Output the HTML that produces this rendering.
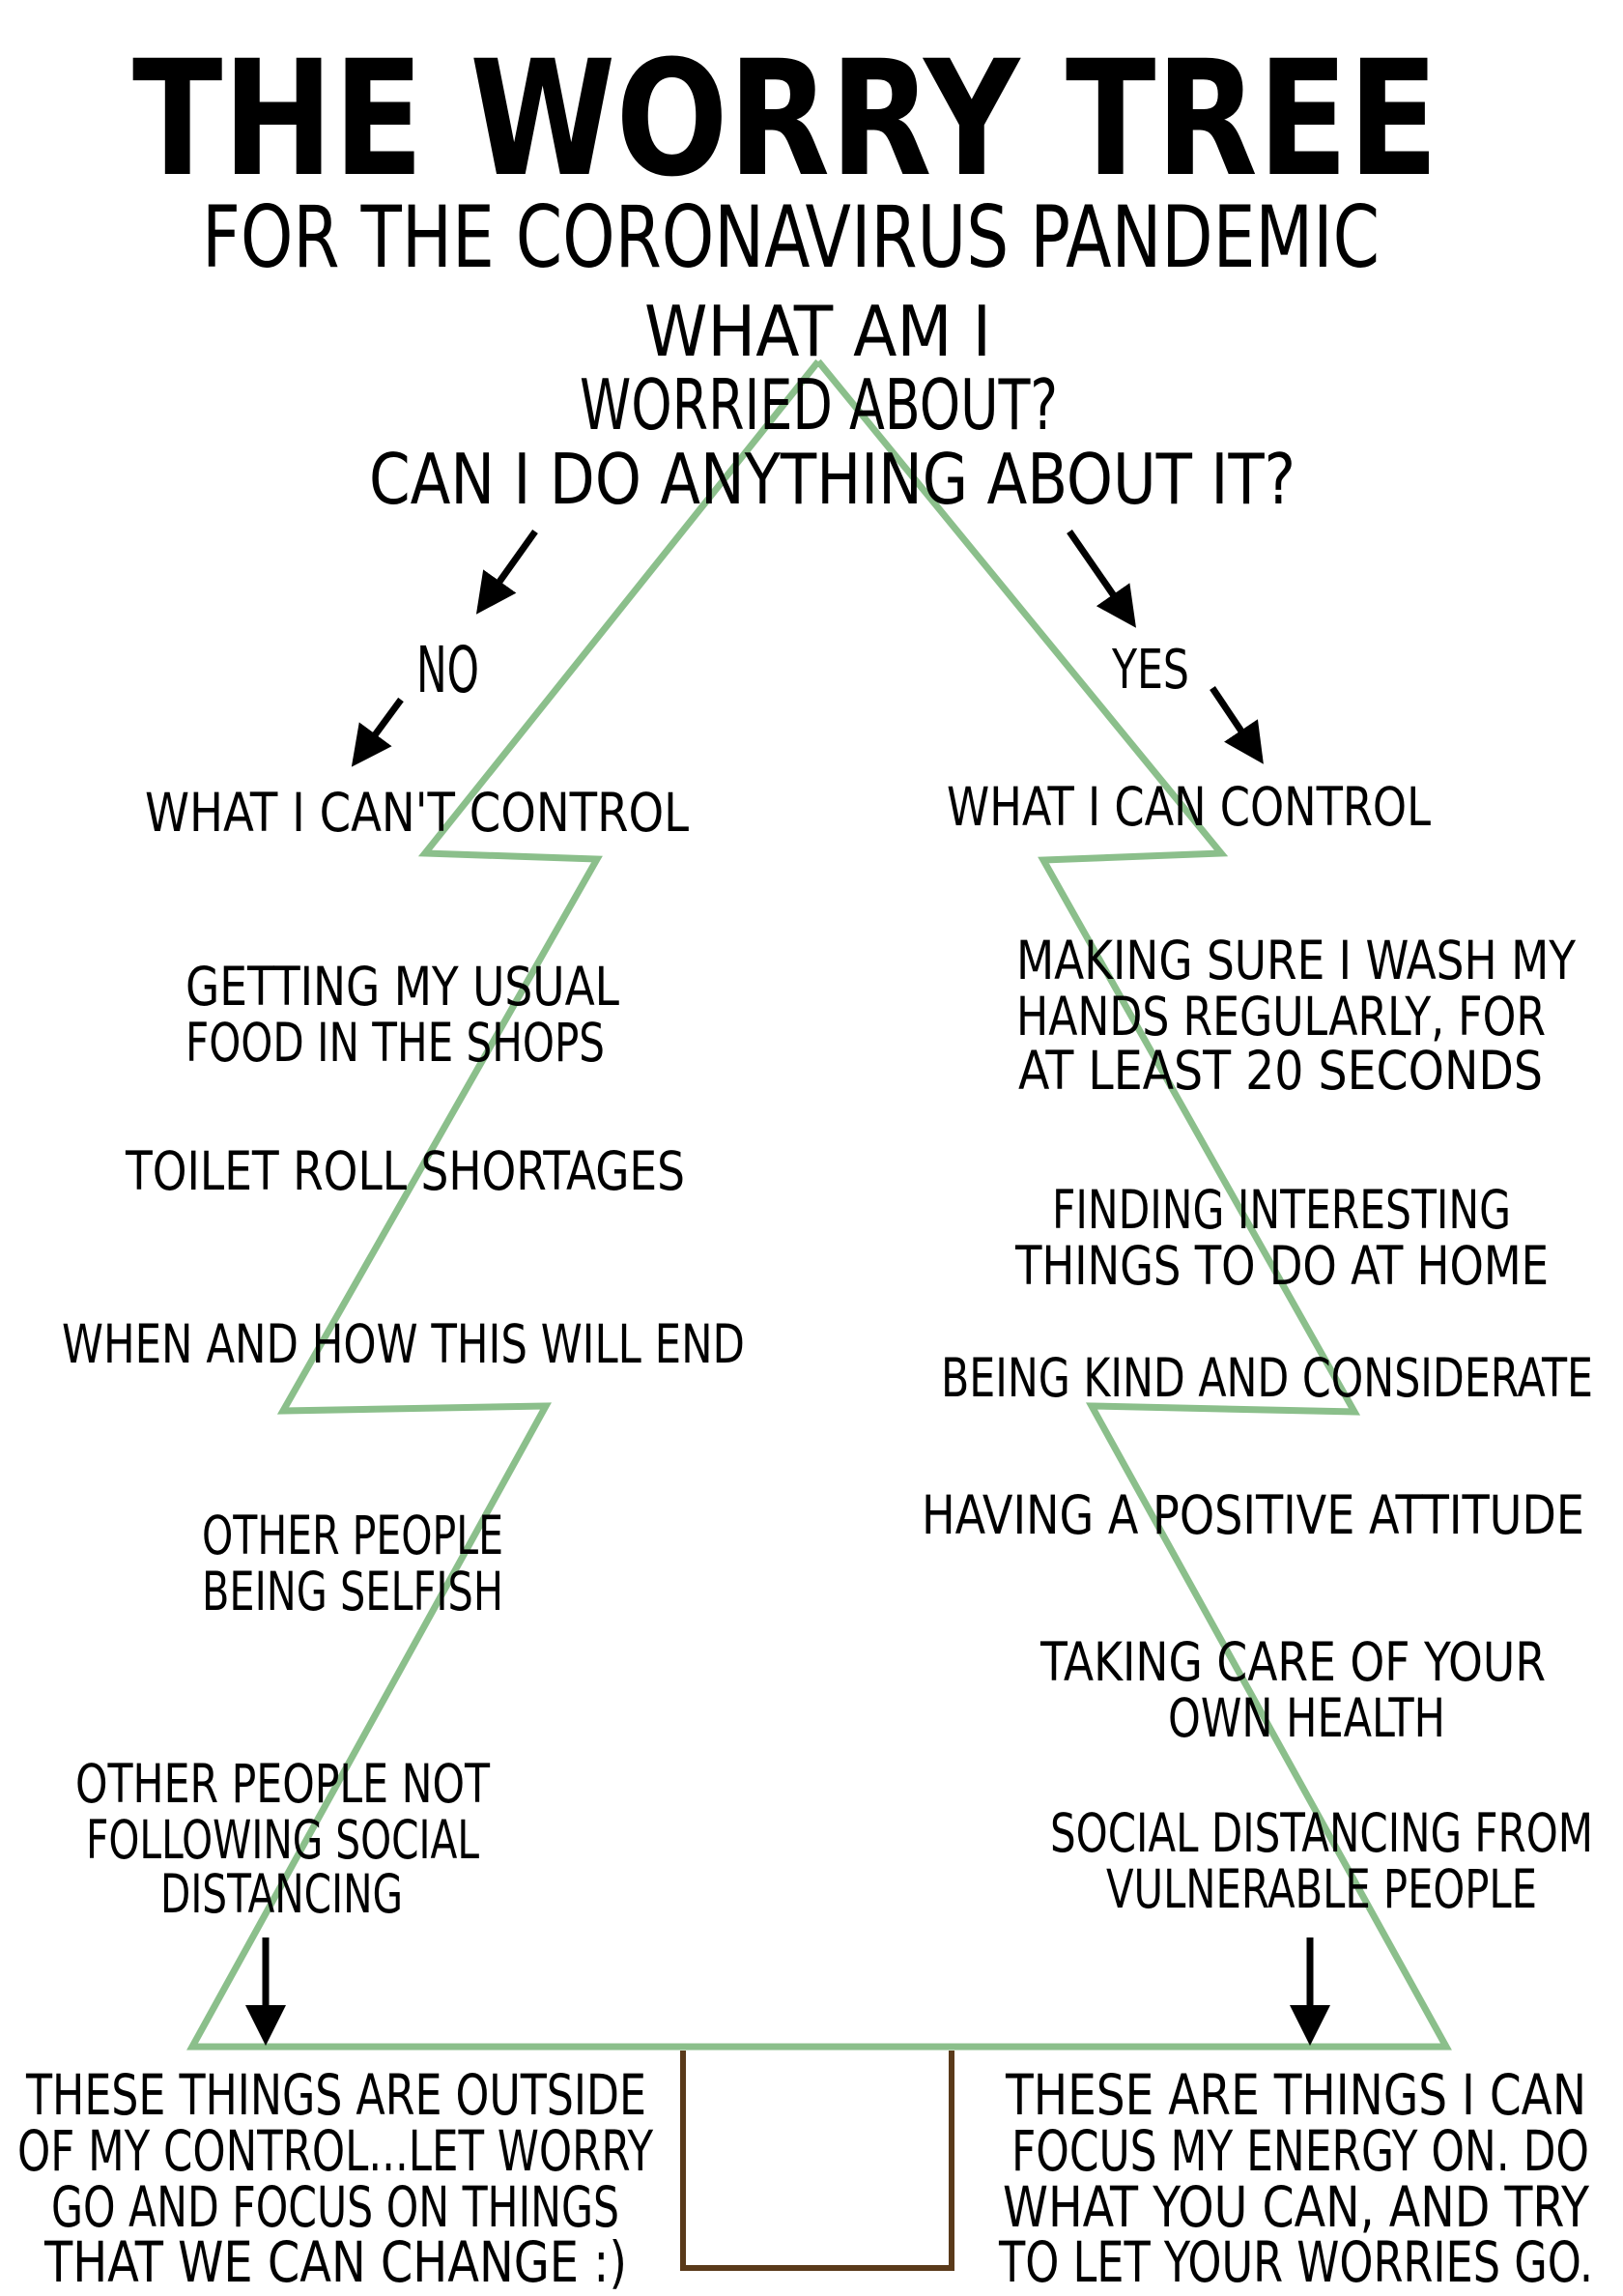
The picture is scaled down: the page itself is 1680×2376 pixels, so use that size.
<!DOCTYPE html>
<html><head><meta charset="utf-8"><style>
html,body{margin:0;padding:0;background:#fff}
svg{display:block}
text{font-family:"Liberation Sans Narrow","DejaVu Sans Condensed","Liberation Sans",sans-serif;fill:#000}
.t{font-size:55px}
.b{font-size:58px}
</style></head><body>
<svg width="1680" height="2376" viewBox="0 0 1680 2376" xmlns="http://www.w3.org/2000/svg">
<defs><marker id="ah" markerWidth="6" markerHeight="6" refX="5" refY="3" orient="auto" markerUnits="strokeWidth"><path d="M0,0 L6,3 L0,6 Z" fill="#000"/></marker></defs>
<polyline points="847,374 440,883 618,889 293,1460 565,1455 199,2118 1497,2118 1130,1455 1402,1461 1080,890 1264,883 847,374" fill="none" stroke="#8bbf8b" stroke-width="7" stroke-linejoin="miter"/>
<polyline points="707,2122 707,2347 985,2347 985,2122" fill="none" stroke="#5a3a1a" stroke-width="6"/>
<g stroke="#000" stroke-width="7" marker-end="url(#ah)">
<line x1="554" y1="550" x2="497" y2="630"/>
<line x1="415" y1="724" x2="368" y2="788"/>
<line x1="1107" y1="550" x2="1172" y2="644"/>
<line x1="1255" y1="712" x2="1304" y2="785"/>
<line x1="275" y1="2005" x2="275" y2="2110"/>
<line x1="1356" y1="2005" x2="1356" y2="2110"/>
</g>
<g transform="translate(0,-6)">
<text x="137" y="186" font-size="165" font-weight="bold" textLength="1352" lengthAdjust="spacingAndGlyphs">THE WORRY TREE</text>
<text x="209" y="282" font-size="88" textLength="1219" lengthAdjust="spacingAndGlyphs">FOR THE CORONAVIRUS PANDEMIC</text>
<g font-size="72">
<text x="667" y="374" textLength="359" lengthAdjust="spacingAndGlyphs">WHAT AM I</text>
<text x="600" y="450" textLength="495" lengthAdjust="spacingAndGlyphs">WORRIED ABOUT?</text>
<text x="382" y="527" textLength="959" lengthAdjust="spacingAndGlyphs">CAN I DO ANYTHING ABOUT IT?</text>
<text x="431" y="722" font-size="66" textLength="65" lengthAdjust="spacingAndGlyphs">NO</text>
<text x="1151" y="718" font-size="56" textLength="80" lengthAdjust="spacingAndGlyphs">YES</text>
</g>
<g class="t">
<text x="150" y="866" textLength="563" lengthAdjust="spacingAndGlyphs">WHAT I CAN'T CONTROL</text>
<text x="980" y="860" textLength="501" lengthAdjust="spacingAndGlyphs">WHAT I CAN CONTROL</text>
<text x="192" y="1046" textLength="449" lengthAdjust="spacingAndGlyphs">GETTING MY USUAL</text>
<text x="192" y="1104" textLength="434" lengthAdjust="spacingAndGlyphs">FOOD IN THE SHOPS</text>
<text x="130" y="1237" textLength="579" lengthAdjust="spacingAndGlyphs">TOILET ROLL SHORTAGES</text>
<text x="64" y="1416" textLength="707" lengthAdjust="spacingAndGlyphs">WHEN AND HOW THIS WILL END</text>
<text x="209" y="1614" textLength="312" lengthAdjust="spacingAndGlyphs">OTHER PEOPLE</text>
<text x="209" y="1672" textLength="312" lengthAdjust="spacingAndGlyphs">BEING SELFISH</text>
<text x="78" y="1871" textLength="429" lengthAdjust="spacingAndGlyphs">OTHER PEOPLE NOT</text>
<text x="89" y="1929" textLength="407" lengthAdjust="spacingAndGlyphs">FOLLOWING SOCIAL</text>
<text x="166" y="1985" textLength="251" lengthAdjust="spacingAndGlyphs">DISTANCING</text>
<text x="1052" y="1019" textLength="579" lengthAdjust="spacingAndGlyphs">MAKING SURE I WASH MY</text>
<text x="1052" y="1077" textLength="548" lengthAdjust="spacingAndGlyphs">HANDS REGULARLY, FOR</text>
<text x="1054" y="1133" textLength="543" lengthAdjust="spacingAndGlyphs">AT LEAST 20 SECONDS</text>
<text x="1089" y="1277" textLength="475" lengthAdjust="spacingAndGlyphs">FINDING INTERESTING</text>
<text x="1051" y="1335" textLength="552" lengthAdjust="spacingAndGlyphs">THINGS TO DO AT HOME</text>
<text x="974" y="1451" textLength="675" lengthAdjust="spacingAndGlyphs">BEING KIND AND CONSIDERATE</text>
<text x="954" y="1593" textLength="686" lengthAdjust="spacingAndGlyphs">HAVING A POSITIVE ATTITUDE</text>
<text x="1077" y="1745" textLength="523" lengthAdjust="spacingAndGlyphs">TAKING CARE OF YOUR</text>
<text x="1209" y="1803" textLength="287" lengthAdjust="spacingAndGlyphs">OWN HEALTH</text>
<text x="1087" y="1922" textLength="562" lengthAdjust="spacingAndGlyphs">SOCIAL DISTANCING FROM</text>
<text x="1145" y="1980" textLength="446" lengthAdjust="spacingAndGlyphs">VULNERABLE PEOPLE</text>
</g>
<g class="b">
<text x="27" y="2194" textLength="642" lengthAdjust="spacingAndGlyphs">THESE THINGS ARE OUTSIDE</text>
<text x="18" y="2252" textLength="658" lengthAdjust="spacingAndGlyphs">OF MY CONTROL...LET WORRY</text>
<text x="53" y="2310" textLength="588" lengthAdjust="spacingAndGlyphs">GO AND FOCUS ON THINGS</text>
<text x="46" y="2367" textLength="603" lengthAdjust="spacingAndGlyphs">THAT WE CAN CHANGE :)</text>
<text x="1041" y="2194" textLength="601" lengthAdjust="spacingAndGlyphs">THESE ARE THINGS I CAN</text>
<text x="1047" y="2252" textLength="598" lengthAdjust="spacingAndGlyphs">FOCUS MY ENERGY ON. DO</text>
<text x="1038" y="2310" textLength="607" lengthAdjust="spacingAndGlyphs">WHAT YOU CAN, AND TRY</text>
<text x="1034" y="2367" textLength="615" lengthAdjust="spacingAndGlyphs">TO LET YOUR WORRIES GO.</text>
</g>
</g>
</svg>
</body></html>
